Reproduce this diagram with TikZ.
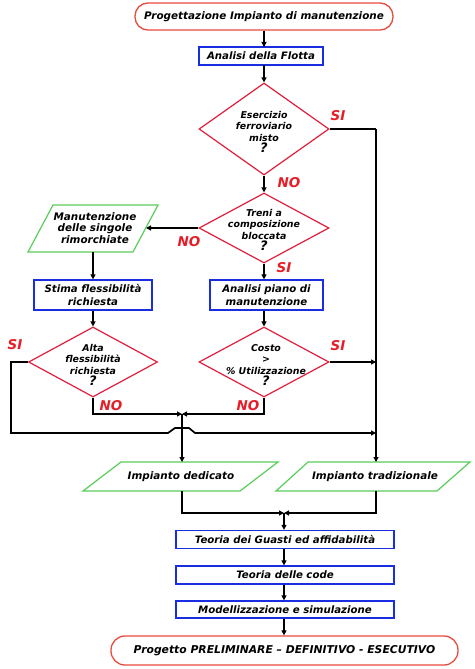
\documentclass[tikz,border=0pt]{standalone}
\usepackage{fontspec}
\setmainfont{DejaVu Sans}
\usetikzlibrary{shapes.geometric,arrows.meta}
\definecolor{tred}{RGB}{235,75,60}
\definecolor{dred}{RGB}{225,30,60}
\definecolor{tblue}{RGB}{25,45,225}
\definecolor{tgreen}{RGB}{90,205,90}
\definecolor{lred}{RGB}{230,30,40}
\begin{document}
\begin{tikzpicture}[x=1pt,y=-1pt,
  term/.style={draw=tred, line width=1.3pt, rounded corners=13pt, minimum height=27pt, inner sep=0pt, font=\fontsize{10.4}{12}\selectfont\bfseries\itshape},
  box/.style={draw=tblue, line width=1.3pt, inner sep=0pt, align=center, font=\fontsize{10.2}{13}\selectfont\bfseries\itshape},
  dia/.style={diamond, draw=dred, line width=1.2pt, inner sep=0pt},
  dtext/.style={align=center, font=\fontsize{9.4}{11.3}\selectfont\bfseries\itshape},
  ptext/.style={align=center, font=\fontsize{10.4}{11.8}\selectfont\bfseries\itshape},
  parbox/.style={draw=tgreen, line width=1.2pt},
  lab/.style={text=lred, font=\fontsize{13.5}{15}\selectfont\bfseries\itshape, inner sep=0pt},
  arr/.style={-{Triangle[length=5pt,width=5pt]}, line width=1.7pt},
  conn/.style={line width=1.7pt},
  qm/.style={}]
\useasboundingbox (0,0) rectangle (474,669);
\fill[white] (0,0) rectangle (474,669);

% top
\node[term, minimum width=258pt] (t1) at (264,16.5) {Progettazione Impianto di manutenzione};
\node[box, minimum width=124pt, minimum height=18pt] (b1) at (261,56) {Analisi della Flotta};

% diamonds
\node[dia, minimum width=130pt, minimum height=92pt] (d1) at (264,129) {};
\node[dtext] (d1t) at (264,132) {Esercizio\\ferroviario\\misto\\{\fontsize{13}{14}\selectfont ?}};
\node[dia, minimum width=130pt, minimum height=70pt] (d2) at (264,228) {};
\node[dtext] (d2t) at (264,230) {Treni a\\composizione\\bloccata\\{\fontsize{13}{14}\selectfont ?}};
\node[dia, minimum width=129pt, minimum height=70pt] (d3) at (93,362) {};
\node[dtext] (d3t) at (93,365) {Alta\\flessibilità\\richiesta\\{\fontsize{13}{14}\selectfont ?}};
\node[dia, minimum width=130pt, minimum height=70pt] (d4) at (264,362) {};
\node[dtext] (d4t) at (266,365) {Costo\\>\\\% Utilizzazione\\{\fontsize{13}{14}\selectfont ?}};

% parallelogram 1
\draw[parbox] (53,205) -- (158,205) -- (133,252) -- (28,252) -- cycle;
\node[ptext] (p1) at (95,228) {Manutenzione\\delle singole\\rimorchiate};
\coordinate (p1r) at (146,228);
\coordinate (p1b) at (93,252);

% boxes
\node[box, minimum width=118pt, minimum height=30pt] (b2) at (93,295) {Stima flessibilità\\richiesta};
\node[box, minimum width=113pt, minimum height=30pt] (b3) at (266.5,295) {Analisi piano di\\manutenzione};

% bottom parallelograms
\draw[parbox] (121,462) -- (278,462) -- (240,491) -- (83,491) -- cycle;
\node[ptext] (pd) at (181,476.5) {Impianto dedicato};
\draw[parbox] (308,462) -- (470,462) -- (437,491) -- (276,491) -- cycle;
\node[ptext] (pt) at (375,476.5) {Impianto tradizionale};
\coordinate (pdt) at (182,462);
\coordinate (pdb) at (182,491);
\coordinate (ptt) at (376,462);
\coordinate (ptb) at (376,491);

% bottom boxes
\node[box, minimum width=218pt, minimum height=18pt] (g1) at (285,539.5) {Teoria dei Guasti ed affidabilità};
\node[box, minimum width=218pt, minimum height=18pt] (g2) at (285,575) {Teoria delle code};
\node[box, minimum width=218pt, minimum height=17pt] (g3) at (285,609.5) {Modellizzazione e simulazione};
\node[term, minimum width=347pt, minimum height=29pt, rounded corners=14pt, font=\fontsize{10.8}{12}\selectfont\bfseries\itshape] (t2) at (284.5,650.5) {Progetto PRELIMINARE – DEFINITIVO - ESECUTIVO};

% junction coordinates
\coordinate (jr1) at (376,129);
\coordinate (jr2) at (376,362);
\coordinate (jr3) at (376,433);
\coordinate (jn) at (182,414);
\coordinate (jb) at (284,513);

% connectors
\draw[arr] (t1.south -| 264,0) -- (264,47);
\draw[arr] (264,65) -- (d1.north);
\draw[conn] (d1.east) -- (jr1);
\draw[arr] (jr1) -- (ptt);
\draw[arr] (d1.south) -- (d2.north);
\draw[arr] (d2.west) -- (p1r);
\draw[arr] (d2.south) -- (d2.south |- b3.north);
\draw[arr] (p1b) -- (p1b |- b2.north);
\draw[arr] (b2.south -| d3.north) -- (d3.north);
\draw[arr] (b3.south -| d4.north) -- (d4.north);
\draw[arr] (d4.east) -- (jr2);
\draw[arr] (d3.west) -- (11,362) -- (11,433) -- (168,433) -- (175,428) -- (189,428) -- (195,433) -- (jr3);
\draw[arr] (d3.south) -- (93,414) -- (jn);
\draw[arr] (d4.south) -- (264,414) -- (jn);
\draw[arr] (jn) -- (pdt);
\draw[arr] (pdb) -- (182,513) -- (jb);
\draw[arr] (ptb) -- (376,513) -- (jb);
\draw[arr] (jb) -- (g1.north -| jb);
\draw[arr] (g1.south -| jb) -- (g2.north -| jb);
\draw[arr] (g2.south -| jb) -- (g3.north -| jb);
\draw[arr] (g3.south -| jb) -- (t2.north -| jb);

% labels
\node[lab] (l1) at (338,116) {SI};
\node[lab] (l2) at (289,183) {NO};
\node[lab] (l3) at (189,242) {NO};
\node[lab] (l4) at (284,268) {SI};
\node[lab] (l5) at (15,345) {SI};
\node[lab] (l6) at (338,346) {SI};
\node[lab] (l7) at (111,406) {NO};
\node[lab] (l8) at (248,406) {NO};
\end{tikzpicture}
\end{document}
